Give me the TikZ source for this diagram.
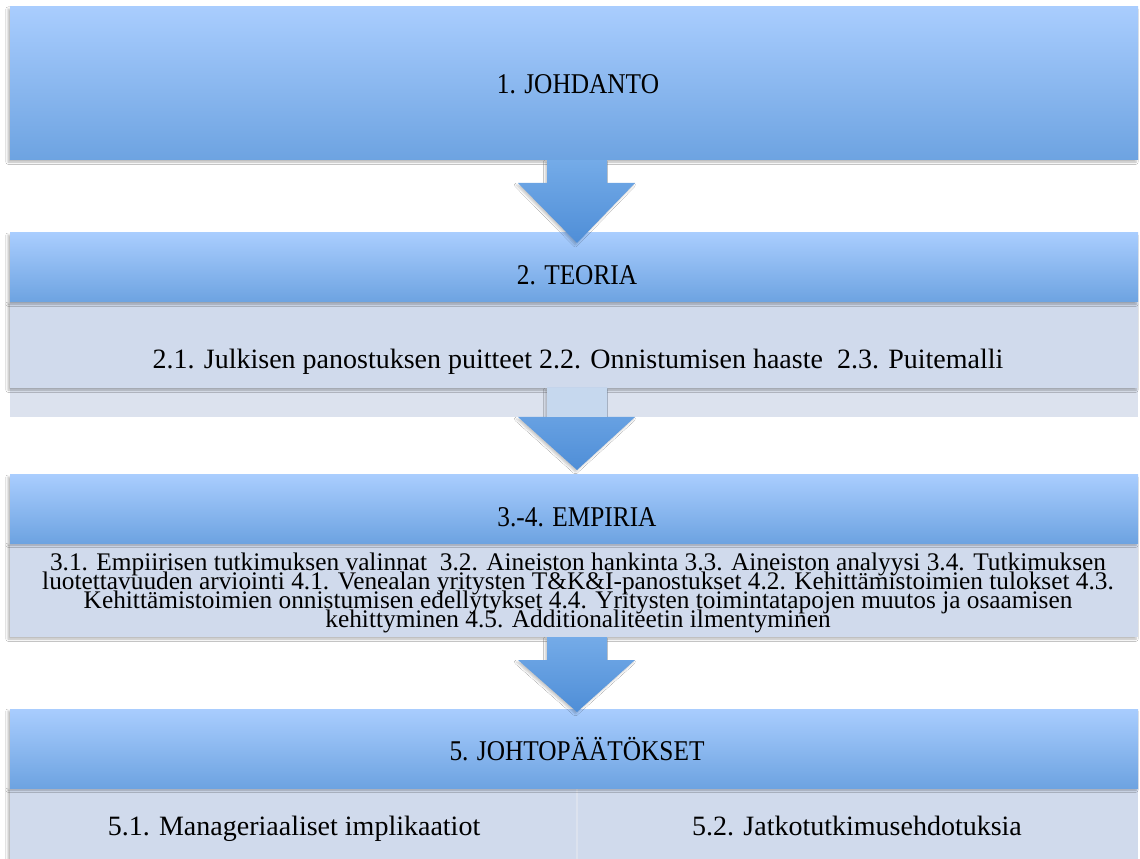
\documentclass[tikz,border=0pt]{standalone}
\usepackage{fontspec}
\setmainfont{Liberation Serif}
\usetikzlibrary{shadows.blur,calc}
\definecolor{hdtop}{HTML}{A9CDFE}
\definecolor{hdbot}{HTML}{6DA3E1}
\definecolor{subfill}{HTML}{D0DAEC}
\definecolor{lightfill}{HTML}{DCE2EE}
\definecolor{artop}{HTML}{74ABE8}
\definecolor{arbot}{HTML}{4F8ED7}
\definecolor{paleshaft}{HTML}{C6D8EE}
\newcommand\tightlines{\setlength{\lineskiplimit}{-100pt}\setlength{\lineskip}{0pt}}
\tikzset{
  shd/.style={blur shadow={shadow xshift=-1.5pt, shadow yshift=-1.6pt, shadow blur radius=1.6pt, shadow opacity=28}},
  hdr/.style={rectangle, inner sep=0pt, minimum width=846pt, top color=hdtop, bottom color=hdbot, draw=none, shd},
  subbox/.style={rectangle, inner sep=0pt, fill=subfill, draw=none},
  lightbox/.style={rectangle, inner sep=0pt, fill=lightfill, draw=none},
  hdtxt/.style={font=\fontsize{19}{22}\selectfont, inner sep=0pt, anchor=base},
  bodytxt/.style={font=\fontsize{21}{24}\selectfont, inner sep=0pt, anchor=base},
  smalltxt/.style={font={\fontsize{19}{14.25}\selectfont\tightlines}, inner sep=0pt, align=center, anchor=base},
  blockarrow/.style={top color=artop, bottom color=arbot, draw=none,
    blur shadow={shadow xshift=-1.2pt, shadow yshift=-1.5pt, shadow blur radius=1.5pt, shadow opacity=22}}
}
\newcommand\myarrow[3]{% #1 top y, #2 neck y, #3 tip y
  \path[blockarrow] (547,#1) -- (607,#1) -- (607,#2) -- (635,#2) -- (577,#3) -- (518,#2) -- (547,#2) -- cycle;}
\newcommand\tallcaps[1]{\scalebox{1}[1.13]{#1}}
\begin{document}
\begin{tikzpicture}[x=0.75pt,y=-0.75pt]
\useasboundingbox[fill=white] (0,0) rectangle (1140,859);

% Box 1
\node[hdr, minimum height=114.75pt] (b1) at (574,83.5) {};
\node[hdtxt] (t1) at (578,94) {\tallcaps{1. JOHDANTO}};

% Box 2
\node[lightbox, minimum width=846pt, minimum height=86.25pt] (b2s) at (574,359.5) {};
\node[subbox, shd, minimum width=846pt, minimum height=64.5pt] (b2i) at (574,345) {};
\node[hdr, minimum height=51.75pt] (b2h) at (574,267.5) {};
\node[hdtxt] (t2) at (577,285) {\tallcaps{2. TEORIA}};
\node[bodytxt] (t2s) at (578,369) {2.1. Julkisen panostuksen puitteet 2.2. Onnistumisen haaste \ 2.3. Puitemalli};

% Arrow 1 (over box 2 header)
\myarrow{160}{183}{243}

% Arrow 2
\myarrow{388}{417}{470}
\fill[paleshaft] (547,388) rectangle (607,417);

% Box 3
\node[subbox, shd, minimum width=846pt, minimum height=70.5pt] (b3s) at (574,590) {};
\node[hdr, minimum height=51pt] (b3h) at (574,509) {};
\node[hdtxt] (t3) at (577,527) {\tallcaps{3.-4. EMPIRIA}};
\node[smalltxt] (t3s) at (578,627) {3.1. Empiirisen tutkimuksen valinnat \ 3.2. Aineiston hankinta 3.3. Aineiston analyysi 3.4. Tutkimuksen\\
luotettavuuden arviointi 4.1. Venealan yritysten T\&K\&I-panostukset 4.2. Kehittämistoimien tulokset 4.3.\\
Kehittämistoimien onnistumisen edellytykset 4.4. Yritysten toimintatapojen muutos ja osaamisen\\
kehittyminen 4.5. Additionaliteetin ilmentyminen};

% Box 4
\node[subbox, shd, minimum width=425.25pt, minimum height=60pt] (b4l) at (293.5,828) {};
\node[subbox, minimum width=420pt, minimum height=60pt] (b4r) at (858,828) {};
\draw[lightfill, line width=1.5pt] (b4l.north east) -- (b4l.south east);
\node[hdr, minimum height=59.25pt] (b4h) at (574,748.5) {};
\node[hdtxt] (t4) at (577,760) {\tallcaps{5. JOHTOPÄÄTÖKSET}};
\node[bodytxt] (t4l) at (294,835) {5.1. Manageriaaliset implikaatiot};
\node[bodytxt] (t4r) at (857,835) {5.2. Jatkotutkimusehdotuksia};

% Arrow 3 (tip over box 4 header)
\myarrow{637}{660}{712}
\end{tikzpicture}
\end{document}
